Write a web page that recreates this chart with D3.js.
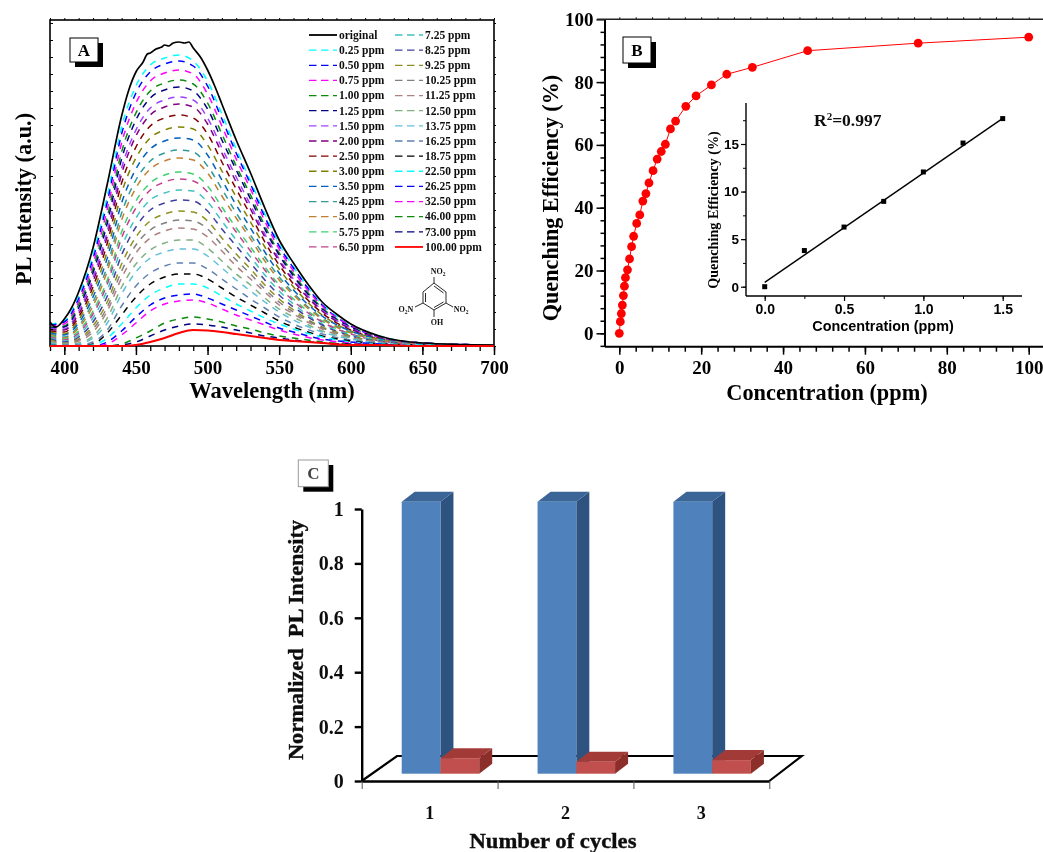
<!DOCTYPE html>
<html>
<head>
<meta charset="UTF-8">
<script src="https://d3js.org/d3.v7.min.js"></script>
<style>
body { margin: 0; background: #fff; }
svg { display: block; font-family: "Liberation Serif", serif; font-weight: bold; }
.axis .domain { fill: none; }
</style>
</head>
<body>
<svg width="1043" height="852"></svg>
<script>

// ---- panel A: PL spectra, intensity in a.u.
var wavelengths = [390,400,410,420,430,440,450,460,470,480,490,500,510,520,530,540,550,560,580,600,620,650,700];

var originalWl = [390,394,400,405,410,420,430,440,445,450,455,458,460,464,468,470,473,476,480,484,487,490,495,500,505,510,520,530,540,550,560,570,580,590,600,620,650,700];
var originalPL = [24,19,27,38,54,98,162,230,256,274,284,292,293,297,299,301,300,303,304,303,304,298,289,276,260,242,206,173,138,106,83,62,44,32,22,10,3,1];

var concLabels = ["0.25 ppm","0.50 ppm","0.75 ppm","1.00 ppm","1.25 ppm","1.50 ppm","2.00 ppm","2.50 ppm","3.00 ppm","3.50 ppm","4.25 ppm","5.00 ppm","5.75 ppm","6.50 ppm","7.25 ppm","8.25 ppm","9.25 ppm","10.25 ppm","11.25 ppm","12.50 ppm","13.75 ppm","16.25 ppm","18.75 ppm","22.50 ppm","26.25 ppm","32.50 ppm","46.00 ppm","73.00 ppm","100.00 ppm"];

var curveColors = ["#00ffff","#0000ff","#ff00ff","#0a8a0a","#000080","#a040ff","#800080","#800000","#808000","#0060c0","#2f9a9a","#c08030","#40d070","#c04090","#40c0c0","#4040a0","#909020","#808080","#b08080","#80b080","#60c0d8","#6080b0","#000000","#00ffff","#0000ff","#ff00ff","#0a8a0a","#000080","#ff0000"];

var plCurves = [
  [22,25,50,91,150,219,260,281,288,291,285,265,232,197,165,132,102,79,42,21,10,3,1],
  [21,24,47,87,144,212,253,274,282,285,280,260,227,193,162,129,100,78,41,20,9,3,1],
  [20,22,44,82,137,203,243,265,273,276,272,252,220,187,157,125,97,75,40,20,9,3,1],
  [19,20,41,77,129,194,233,255,263,266,262,243,212,180,151,120,93,72,38,19,9,3,1],
  [18,19,38,73,123,187,226,248,256,259,255,237,206,176,147,117,91,70,37,19,8,3,1],
  [17,17,35,68,115,178,216,238,246,249,246,228,198,169,141,112,87,67,36,18,8,3,1],
  [16,16,32,64,110,172,210,231,239,242,239,222,193,164,137,109,85,65,35,17,8,2,1],
  [15,14,29,59,103,163,199,220,228,231,228,212,184,157,131,104,81,62,33,16,7,2,1],
  [14,12,26,54,95,153,188,208,216,219,217,201,175,149,124,99,77,59,31,15,7,2,1],
  [13,11,23,49,88,143,177,197,205,208,206,191,166,141,118,94,73,56,30,15,7,2,1],
  [12,9,20,44,80,133,166,185,193,196,194,180,157,133,111,89,69,53,28,14,6,2,1],
  [11,8,18,40,75,126,158,177,185,188,186,173,150,128,107,85,66,51,27,13,6,2,1],
  [10,7,15,35,66,114,145,163,171,174,172,160,139,118,99,79,61,47,25,12,6,2,1],
  [9,6,13,32,62,108,138,156,164,167,165,154,134,114,95,76,59,45,24,12,5,2,1],
  [8,5,11,28,56,99,128,146,153,156,155,144,125,106,89,71,55,42,22,11,5,2,1],
  [7,4,9,24,50,91,119,136,143,146,145,135,117,100,83,66,51,39,21,10,5,2,0],
  [6,3,7,20,44,82,109,125,132,135,134,125,108,92,77,61,47,36,19,10,4,1,0],
  [5,3,6,17,39,75,101,116,123,126,125,117,101,86,72,57,44,34,18,9,4,1,0],
  [5,2,5,14,35,68,93,108,115,118,117,109,95,80,67,54,41,32,17,8,4,1,0],
  [4,2,3,10,28,59,82,96,103,106,106,98,85,72,61,48,37,29,15,8,3,1,0],
  [3,1,2,8,23,52,74,88,94,97,97,90,78,66,55,44,34,26,14,7,3,1,0],
  [2,1,1,4,16,40,60,73,80,83,83,77,67,57,47,38,29,22,12,6,3,1,0],
  [1,0,0,2,13,31,49,62,69,72,72,67,58,49,41,33,25,19,10,5,2,1,0],
  [1,0,0,1,8,22,38,51,58,62,62,58,50,42,35,28,22,17,9,4,2,1,0],
  [0,0,0,0,4,15,29,41,48,51,52,48,42,36,30,24,18,14,7,4,2,0,0],
  [0,0,0,0,2,11,23,35,42,45,46,43,37,31,26,21,16,12,6,3,1,0,0],
  [0,0,0,0,0,2,8,15,23,27,29,27,24,20,17,13,10,8,4,2,1,0,0],
  [0,0,0,0,0,1,4,10,16,20,22,21,19,16,13,10,8,6,3,2,1,0,0],
  [0,0,0,0,0,0,1,4,8,13,16,15.5,14,12,10,8,6,5,3,1,1,0,0]
];

// ---- panel B: quenching efficiency
var concentrations = [0,0.25,0.5,0.75,1,1.25,1.5,2,2.5,3,3.5,4.25,5,5.75,6.5,7.25,8.25,9.25,10.25,11.25,12.5,13.75,16.25,18.75,22.5,26.25,32.5,46,73,100];
var quenching = [0,3.7,6.3,9,12,15,17.7,20.2,23.7,27.6,30.9,35,37.7,42.1,44.5,47.9,51.8,55.5,57.9,60.2,65.1,67.6,72.3,75.6,79.1,82.5,84.7,90,92.4,94.3];

var insetConc = [0,0.25,0.5,0.75,1,1.25,1.5];
var insetQuench = [0,3.8,6.27,8.97,12.06,15.1,17.67];
var insetFit = [[0,0.45],[1.5,17.7]];

// ---- panel C: recycling bars
var cycles = ["1","2","3"];
var afterRecovery = [1,1,1];
var afterQuench = [0.057,0.044,0.05];
var cTicks = [0,0.2,0.4,0.6,0.8,1];

var svg = d3.select("svg");

// the source is a scanned figure, everything is a little soft
var defs = svg.append("defs");
function softFilter(id, dev) {
  defs.append("filter").attr("id", id)
    .attr("filterUnits", "userSpaceOnUse")
    .attr("x", 0).attr("y", 0).attr("width", 1043).attr("height", 852)
    .append("feGaussianBlur").attr("stdDeviation", dev);
}
softFilter("softTop", 0.35);
softFilter("softBottom", 0.55);

var layer = svg.append("g").attr("filter", "url(#softTop)");

function styleAxis(g, width) {
  g.attr("class", "axis").attr("font-family", null).attr("font-size", null);
  g.selectAll("line").attr("stroke", "#000").attr("stroke-width", width);
  g.select(".domain").attr("stroke", "#000").attr("stroke-width", width);
  g.selectAll("text").attr("fill", "#000");
  return g;
}

function minorAxis(axis, scale, vals, size, transform, width) {
  var g = layer.append("g").attr("transform", transform)
    .call(axis(scale).tickValues(vals).tickSize(size).tickSizeOuter(0).tickFormat(""));
  styleAxis(g, width);
  g.select(".domain").remove();
  return g;
}

function panelLabel(x, y, w, h, name, border, col, off) {
  layer.append("rect").attr("x", x + off).attr("y", y + off).attr("width", w).attr("height", h).attr("fill", "#000");
  layer.append("rect").attr("x", x).attr("y", y).attr("width", w).attr("height", h)
    .attr("fill", "#fff").attr("stroke", border).attr("stroke-width", 1);
  layer.append("text").attr("x", x + w / 2).attr("y", y + h / 2 + 6).attr("text-anchor", "middle")
    .attr("font-size", 17).attr("fill", col).text(name);
}

function axisTitle(x, y, txt, size, rotate, family, len) {
  var t = layer.append("text").attr("text-anchor", "middle").attr("font-size", size).attr("fill", "#000").text(txt);
  if (family) t.attr("font-family", family);
  if (len) t.attr("textLength", len).attr("lengthAdjust", "spacingAndGlyphs");
  if (rotate) t.attr("transform", "translate(" + x + "," + y + ") rotate(-90)");
  else t.attr("x", x).attr("y", y);
  return t;
}

// ======== A ========
var xA = d3.scaleLinear().domain([390, 700]).range([50, 494]);
var yA = d3.scaleLinear().domain([0, 326]).range([346, 20]);

defs.append("clipPath").attr("id", "clipA").append("rect")
  .attr("x", 50).attr("y", 20).attr("width", 444).attr("height", 326);

var lineA = d3.line().x(function(d) { return xA(d[0]); }).y(function(d) { return yA(d[1]); }).curve(d3.curveMonotoneX);
var curvesA = layer.append("g").attr("clip-path", "url(#clipA)");

curvesA.selectAll(".spec")
  .data(plCurves.slice(0, 28))
  .enter().append("path")
    .attr("class", "spec")
    .attr("fill", "none")
    .attr("stroke", function(d, i) { return curveColors[i]; })
    .attr("stroke-width", 1.5)
    .attr("stroke-dasharray", "6.5,6")
    .attr("d", function(d) { return lineA(d.map(function(v, i) { return [wavelengths[i], v]; })); });

curvesA.append("path")
  .attr("fill", "none").attr("stroke", "#000").attr("stroke-width", 1.7)
  .attr("d", lineA(originalPL.map(function(v, i) { return [originalWl[i], v]; })));

var aMinorX = d3.range(390, 701, 10);
var aTicksY = d3.range(0, 326, 17);
minorAxis(d3.axisBottom, xA, aMinorX, 5, "translate(0,346)", 1.3);
minorAxis(d3.axisTop, xA, aMinorX, 2, "translate(0,20)", 1);
minorAxis(d3.axisRight, yA, aTicksY, 3, "translate(50,0)", 1);
minorAxis(d3.axisRight, yA, aTicksY, 2, "translate(494,0)", 1);

var axA = layer.append("g").attr("transform", "translate(0,346)")
  .call(d3.axisBottom(xA).tickValues(d3.range(400, 701, 50)).tickSize(9).tickSizeOuter(0).tickPadding(6));
styleAxis(axA, 1.5);
axA.selectAll("text").attr("font-size", 19);
axA.select(".domain").remove();

layer.append("rect").attr("x", 50).attr("y", 20).attr("width", 444).attr("height", 326)
  .attr("fill", "none").attr("stroke", "#000").attr("stroke-width", 1.6);

// the 100 ppm curve lies on top of the frame along the baseline
layer.append("path")
  .attr("fill", "none").attr("stroke", "#f00").attr("stroke-width", 2.2)
  .attr("d", lineA(plCurves[28].map(function(v, i) { return [wavelengths[i], v]; })));

axisTitle(272, 398, "Wavelength (nm)", 22.5);
axisTitle(31, 199, "PL Intensity (a.u.)", 22.3, true);
panelLabel(70, 38, 28, 24, "A", "#000", "#000", 5);

// legend
var legendRows = ["original"].concat(concLabels);
var legend = layer.append("g").selectAll("g")
  .data(legendRows)
  .enter().append("g")
    .attr("transform", function(d, i) {
      return "translate(" + (i < 15 ? 309 : 395) + "," + (35 + (i % 15) * 15.14) + ")";
    });

legend.append("line")
  .attr("x1", 0).attr("x2", 28)
  .attr("stroke", function(d, i) { return i == 0 ? "#000" : curveColors[i - 1]; })
  .attr("stroke-width", function(d, i) { return (i == 0 || i == 29) ? 1.8 : 1.3; })
  .attr("stroke-dasharray", function(d, i) { return (i == 0 || i == 29) ? null : "7.5,4.5"; });

legend.append("text")
  .attr("x", 30).attr("y", 3.8)
  .attr("font-size", 11.5).attr("fill", "#111")
  .text(function(d) { return d; });

// picric acid sketch
layer.append("path")
  .attr("fill", "none").attr("stroke", "#111").attr("stroke-width", 0.9)
  .attr("d", "M434,283L446,292L446,303L434,310L423,303L423,292Z" +
    "M434,286L443.500,293M443.500,302L434,307.500M425.500,302L425.500,293" +
    "M434,283L434,277M446,303L453,307M423,303L415,307M434,310L434,317");

function chemLabel(x, y, parts) {
  var t = layer.append("text").attr("x", x).attr("y", y).attr("text-anchor", "middle")
    .attr("font-size", 8).attr("fill", "#111");
  parts.forEach(function(p) {
    t.append("tspan").attr("font-size", p[1] ? 5.5 : 8).attr("dy", p[1] ? 1.5 : (p[2] || 0)).text(p[0]);
  });
}
chemLabel(438, 274, [["NO"], ["2", true]]);
chemLabel(406, 312, [["O"], ["2", true], ["N", false, -1.5]]);
chemLabel(461, 312, [["NO"], ["2", true]]);
chemLabel(437, 325, [["OH"]]);

// ======== B ========
var xB = d3.scaleLinear().domain([0, 100]).range([619.3, 1028.7]);
var yB = d3.scaleLinear().domain([0, 100]).range([333.3, 19.3]);

minorAxis(d3.axisBottom, xB, d3.range(0, 101, 4), 5, "translate(0,346.7)", 1.5);
minorAxis(d3.axisTop, xB, d3.range(0, 101, 4), 2, "translate(0,19.3)", 1);
minorAxis(d3.axisLeft, yB, d3.range(-4, 100, 4), 4.5, "translate(605,0)", 1.5);

var axBx = layer.append("g").attr("transform", "translate(0,346.7)")
  .call(d3.axisBottom(xB).tickValues(d3.range(0, 101, 20)).tickSize(8).tickSizeOuter(0).tickPadding(6));
styleAxis(axBx, 1.5);
axBx.selectAll("text").attr("font-size", 19);
axBx.select(".domain").remove();

var axBy = layer.append("g").attr("transform", "translate(605,0)")
  .call(d3.axisLeft(yB).tickValues(d3.range(0, 101, 20)).tickSize(8.5).tickSizeOuter(0).tickPadding(3));
styleAxis(axBy, 1.5);
axBy.selectAll("text").attr("font-size", 19);
axBy.select(".domain").remove();

layer.append("line").attr("x1", 605).attr("x2", 605).attr("y1", 19.3).attr("y2", 346.7).attr("stroke", "#000").attr("stroke-width", 2);
layer.append("line").attr("x1", 605).attr("x2", 1043).attr("y1", 346.7).attr("y2", 346.7).attr("stroke", "#000").attr("stroke-width", 2);
layer.append("line").attr("x1", 597).attr("x2", 1043).attr("y1", 19.3).attr("y2", 19.3).attr("stroke", "#222").attr("stroke-width", 1.5);

var lineB = d3.line().x(function(d) { return xB(d); }).y(function(d, i) { return yB(quenching[i]); });
layer.append("path").attr("fill", "none").attr("stroke", "#f00").attr("stroke-width", 1).attr("d", lineB(concentrations));

layer.append("g").selectAll("circle")
  .data(concentrations)
  .enter().append("circle")
    .attr("cx", function(d) { return xB(d); })
    .attr("cy", function(d, i) { return yB(quenching[i]); })
    .attr("r", 4.4)
    .attr("fill", "#f00");

axisTitle(827, 400, "Concentration (ppm)", 22.3);
axisTitle(558, 198, "Quenching Efficiency (%)", 22.2, true);
panelLabel(623, 37, 28, 26, "B", "#000", "#000", 5);

// inset
var xIn = d3.scaleLinear().domain([0, 1.5]).range([764.7, 1002.7]);
var yIn = d3.scaleLinear().domain([0, 15]).range([286.7, 144]);
var sans = '"Liberation Sans", sans-serif';

minorAxis(d3.axisBottom, xIn, d3.range(0, 1.6, 0.25), 3, "translate(0,296)", 1);
minorAxis(d3.axisLeft, yIn, d3.range(0, 18.1, 2.5), 3, "translate(746,0)", 1);

var axInx = layer.append("g").attr("transform", "translate(0,296)")
  .call(d3.axisBottom(xIn).tickValues([0, 0.5, 1, 1.5]).tickSize(5).tickSizeOuter(0).tickPadding(3).tickFormat(d3.format(".1f")));
styleAxis(axInx, 1.2);
axInx.selectAll("text").attr("font-size", 14).attr("font-family", sans);
axInx.select(".domain").remove();

var axIny = layer.append("g").attr("transform", "translate(746,0)")
  .call(d3.axisLeft(yIn).tickValues([0, 5, 10, 15]).tickSize(5).tickSizeOuter(0).tickPadding(2));
styleAxis(axIny, 1.2);
axIny.selectAll("text").attr("font-size", 13.5).attr("font-family", sans);
axIny.select(".domain").remove();

layer.append("line").attr("x1", 746).attr("x2", 746).attr("y1", 103).attr("y2", 296).attr("stroke", "#000").attr("stroke-width", 1.4);
layer.append("line").attr("x1", 746).attr("x2", 1022).attr("y1", 296).attr("y2", 296).attr("stroke", "#000").attr("stroke-width", 1.4);

layer.append("line")
  .attr("x1", xIn(insetFit[0][0])).attr("y1", yIn(insetFit[0][1]))
  .attr("x2", xIn(insetFit[1][0])).attr("y2", yIn(insetFit[1][1]))
  .attr("stroke", "#000").attr("stroke-width", 1.4);

layer.append("g").selectAll("rect")
  .data(insetConc)
  .enter().append("rect")
    .attr("x", function(d) { return xIn(d) - 2.5; })
    .attr("y", function(d, i) { return yIn(insetQuench[i]) - 2.5; })
    .attr("width", 5).attr("height", 5)
    .attr("fill", "#000");

axisTitle(883, 331, "Concentration (ppm)", 14.4, false, sans);
axisTitle(717.5, 210, "Quenching Efficiency (%)", 14.2, true);

var r2 = layer.append("text").attr("x", 814).attr("y", 126).attr("font-size", 17.5).attr("fill", "#111");
r2.append("tspan").text("R");
r2.append("tspan").attr("font-size", 11).attr("dy", -6).text("2");
r2.append("tspan").attr("dy", 6).text("=0.997");

// ======== C ========
layer = svg.append("g").attr("filter", "url(#softBottom)");

var xC = d3.scaleBand().domain(cycles).range([361.7, 769.3]);
var xSeries = d3.scaleBand().domain(["recovered", "quenched"]).range([40, 117.5]);
var yC = d3.scaleLinear().domain([0, 1]).range([781, 509]);

var floorLift = 7.3, depthX = 13, depthY = 10;
var blues = {front: "#4f81bd", side: "#2f5280", top: "#3a6597"};
var reds = {front: "#c0504d", side: "#8c2f2c", top: "#a23b38"};

// back edge of the floor
layer.append("path").attr("fill", "none").attr("stroke", "#000").attr("stroke-width", 2.2)
  .attr("d", "M361.7," + yC(0) + "L397,756L801.7,756L769.3," + yC(0));

function bar3d(x, w, value, pal) {
  var base = yC(0) - floorLift, top = yC(value) - floorLift;
  layer.append("path").attr("fill", pal.side)
    .attr("d", "M" + (x + w) + "," + top + "l" + depthX + "," + (-depthY) + "L" + (x + w + depthX) + "," + (base - depthY) + "L" + (x + w) + "," + base + "Z");
  layer.append("path").attr("fill", pal.top)
    .attr("d", "M" + x + "," + top + "l" + depthX + "," + (-depthY) + "h" + w + "l" + (-depthX) + "," + depthY + "Z");
  layer.append("rect").attr("x", x).attr("y", top).attr("width", w).attr("height", base - top).attr("fill", pal.front);
}

cycles.forEach(function(c, i) {
  bar3d(xC(c) + xSeries("recovered"), xSeries.bandwidth(), afterRecovery[i], blues);
  bar3d(xC(c) + xSeries("quenched"), xSeries.bandwidth(), afterQuench[i], reds);
});

var axCx = layer.append("g").attr("transform", "translate(0,781)")
  .call(d3.axisBottom(xC).tickSize(0).tickPadding(25));
styleAxis(axCx, 2.4);
axCx.selectAll("text").attr("font-size", 18).attr("fill", "#111");

minorAxis(d3.axisBottom, d3.scaleLinear().domain([0, 3]).range([361.7, 769.3]), [0, 1, 2, 3], 8, "translate(0,781)", 1).selectAll("line").attr("stroke", "#555");

var axCy = layer.append("g").attr("transform", "translate(361.7,0)")
  .call(d3.axisLeft(yC).tickValues(cTicks).tickSize(7).tickSizeOuter(0).tickPadding(11).tickFormat(d3.format("")));
styleAxis(axCy, 2.4);
axCy.selectAll("text").attr("font-size", 20).attr("fill", "#111");

axisTitle(553, 848, "Number of cycles", 20, false, null, 167).attr("fill", "#111").attr("stroke", "#111").attr("stroke-width", 0.35);
axisTitle(303, 640, "Normalized  PL Intensity", 20, true, null, 240).attr("fill", "#111").attr("stroke", "#111").attr("stroke-width", 0.35).style("white-space", "pre");
panelLabel(298.3, 460, 30, 26.7, "C", "#999", "#444", 5);

</script>
</body>
</html>
